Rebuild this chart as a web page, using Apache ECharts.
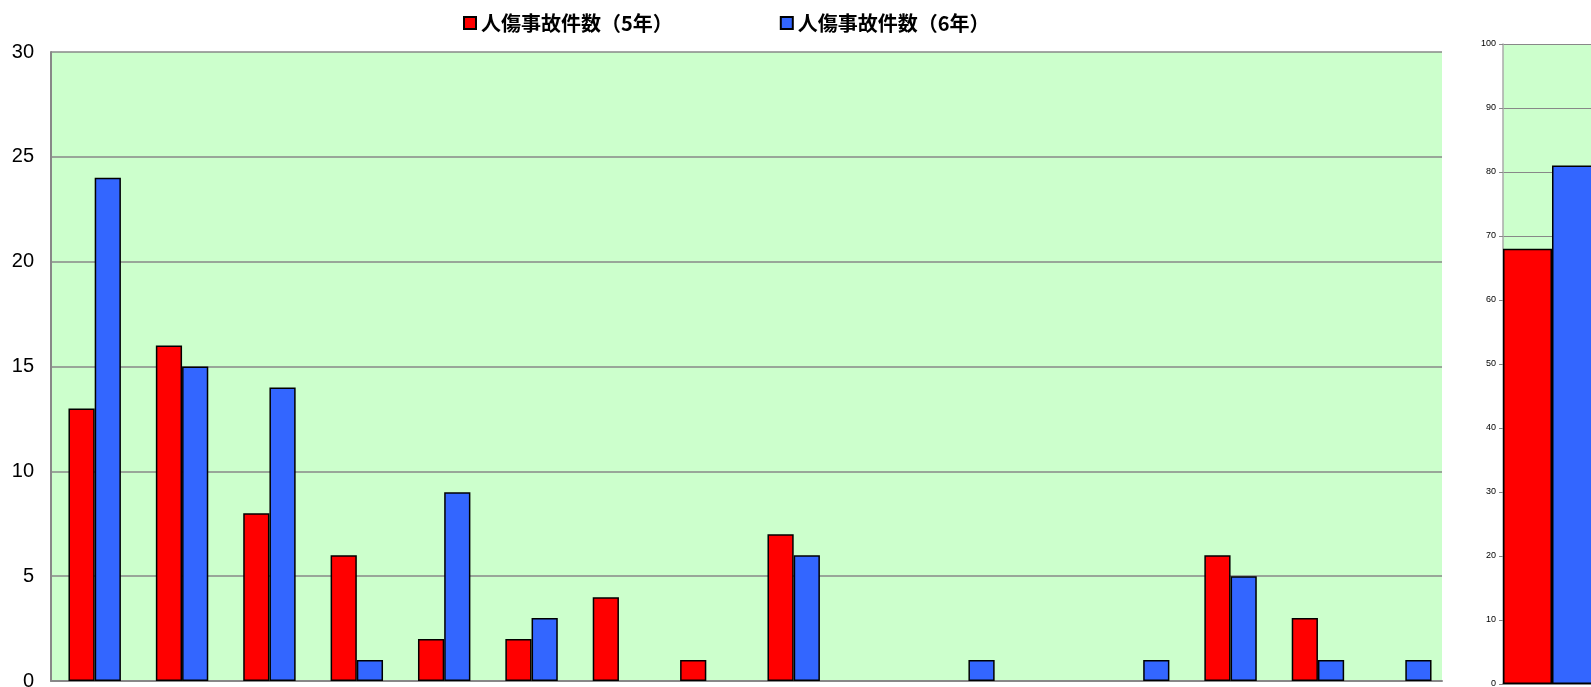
<!DOCTYPE html>
<html><head><meta charset="utf-8">
<script src="https://cdn.jsdelivr.net/npm/echarts@6/dist/echarts.min.js"></script>
<style>html,body{margin:0;padding:0;background:#fff}#c{width:1591px;height:687px}</style>
</head><body><div id="c"></div>
<script>
const categories = ['1','2','3','4','5','6','7','8','9','10','11','12','13','14','15','16'];
const seriesNames = ['人傷事故件数（5年）', '人傷事故件数（6年）'];
const year5 = [13, 16, 8, 6, 2, 2, 4, 1, 7, '-', '-', '-', '-', 6, 3, '-'];
const year6 = [24, 15, 14, 1, 9, 3, '-', '-', 6, '-', 1, '-', 1, 5, 1, 1];
const totalCategory = ['合計'];
const total5 = [68];
const total6 = [81];

const chart = echarts.init(document.getElementById('c'));
const barBorder = {borderColor: '#000', borderWidth: 1.5};
chart.setOption({
  animation: false,
  backgroundColor: '#fff',
  legend: {
    top: 8, left: 458, itemGap: 107, itemWidth: 12, itemHeight: 12,
    icon: 'rect',
    textStyle: {fontSize: 20, fontWeight: 'bold', color: '#000', fontFamily: 'Noto Sans CJK JP'},
    data: seriesNames
  },
  grid: [
    {left: 51, right: 149, top: 52, bottom: 6, show: true, backgroundColor: '#CCFFCC', borderWidth: 0,
     outerBoundsMode: 'none', containLabel: false, z: 0},
    {left: 1503, width: 98, top: 44, bottom: 3, show: true, backgroundColor: '#CCFFCC', borderWidth: 0,
     outerBoundsMode: 'none', containLabel: false},
    {left: 51, width: 1398, top: 52, bottom: 6, show: false,
     outerBoundsMode: 'none', containLabel: false}
  ],
  xAxis: [
    {type: 'category', gridIndex: 0, data: categories,
     axisLine: {lineStyle: {color: '#888', width: 2}}, axisTick: {show: false}, axisLabel: {show: false}},
    {type: 'category', gridIndex: 1, data: totalCategory,
     axisLine: {lineStyle: {color: '#888', width: 2}}, axisTick: {show: false}, axisLabel: {show: false}},
    {type: 'category', gridIndex: 2, data: categories,
     axisLine: {show: false}, axisTick: {show: false}, axisLabel: {show: false}, splitLine: {show: false}}
  ],
  yAxis: [
    {type: 'value', gridIndex: 0, min: 0, max: 30, interval: 5,
     axisLine: {show: true, lineStyle: {color: '#888', width: 2}}, axisTick: {show: false},
     axisLabel: {fontSize: 20, color: '#000', margin: 17, fontFamily: 'Liberation Sans'},
     splitLine: {lineStyle: {color: '#888', width: 1.5}}},
    {type: 'value', gridIndex: 1, min: 0, max: 100, interval: 10,
     axisLine: {show: true, lineStyle: {color: '#aaa', width: 1.5}},
     axisTick: {show: true, length: 4, lineStyle: {color: '#888'}},
     axisLabel: {fontSize: 9, color: '#000', margin: 7, fontFamily: 'Liberation Sans'},
     splitLine: {lineStyle: {color: '#888', width: 1.2}}},
    {type: 'value', gridIndex: 2, min: 0, max: 30, interval: 5,
     axisLine: {show: false}, axisTick: {show: false}, axisLabel: {show: false}, splitLine: {show: false}}
  ],
  series: [
    {name: seriesNames[0], type: 'bar', xAxisIndex: 2, yAxisIndex: 2, data: year5, z: 3,
     itemStyle: Object.assign({color: '#FF0000'}, barBorder), barGap: '0%', barCategoryGap: '40%'},
    {name: seriesNames[1], type: 'bar', xAxisIndex: 2, yAxisIndex: 2, data: year6, z: 3,
     itemStyle: Object.assign({color: '#3366FF'}, barBorder), barGap: '0%', barCategoryGap: '40%'},
    {name: seriesNames[0], type: 'bar', xAxisIndex: 1, yAxisIndex: 1, data: total5,
     itemStyle: Object.assign({color: '#FF0000'}, barBorder), barGap: '0%', barCategoryGap: '0%'},
    {name: seriesNames[1], type: 'bar', xAxisIndex: 1, yAxisIndex: 1, data: total6,
     itemStyle: Object.assign({color: '#3366FF'}, barBorder), barGap: '0%', barCategoryGap: '0%'}
  ]
});
</script></body></html>
